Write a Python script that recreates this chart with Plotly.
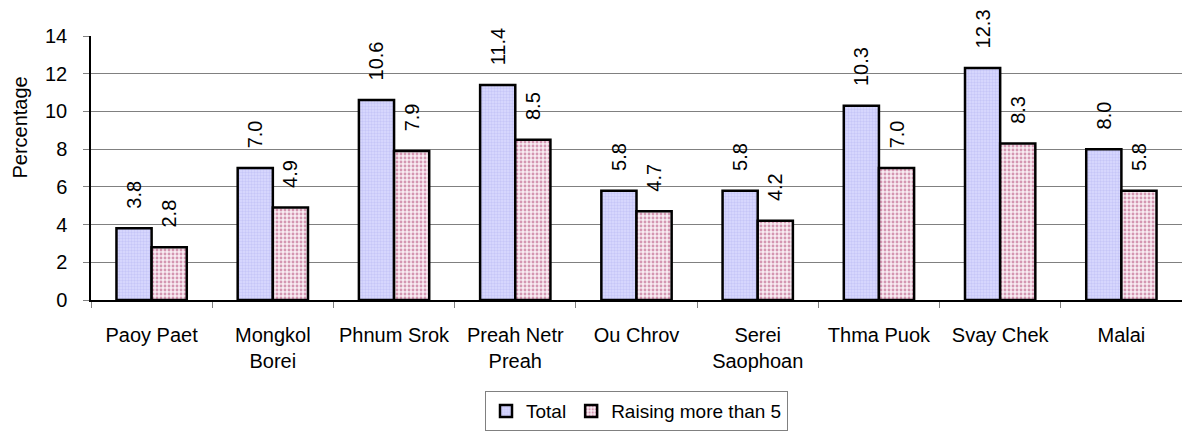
import plotly.graph_objects as go

categories = ["Paoy Paet", "Mongkol<br>Borei", "Phnum Srok", "Preah Netr<br>Preah", "Ou Chrov",
              "Serei<br>Saophoan", "Thma Puok", "Svay Chek", "Malai"]
total = [3.8, 7.0, 10.6, 11.4, 5.8, 5.8, 10.3, 12.3, 8.0]
raising = [2.8, 4.9, 7.9, 8.5, 4.7, 4.2, 7.0, 8.3, 5.8]
y_title = "Percentage"

FAM = "Liberation Sans, Arial"
font = dict(family=FAM, size=20, color="black")
pad = "\u00a0\u00a0\u00a0"

fig = go.Figure()
fig.add_trace(go.Bar(
    x=categories, y=total, name="Total",
    text=[pad + f"{v:.1f}" for v in total], textposition="outside", textangle=-90,
    textfont=font, cliponaxis=False, constraintext="none",
    marker=dict(color="#d4d4fc", line=dict(color="black", width=2.5),
                pattern=dict(shape=".", fgcolor="#b0b0f0", bgcolor="#dcdcff", size=3, solidity=0.5)),
))
fig.add_trace(go.Bar(
    x=categories, y=raising, name="Raising more than 5",
    text=[pad + f"{v:.1f}" for v in raising], textposition="outside", textangle=-90,
    textfont=font, cliponaxis=False, constraintext="none",
    marker=dict(color="#f4e0ea", line=dict(color="black", width=2.5),
                pattern=dict(shape=".", fgcolor="#b04070", bgcolor="#f8ecf2", size=4, solidity=0.4)),
))

fig.update_layout(
    width=1182, height=443,
    margin=dict(l=91, r=0, t=36, b=143, autoexpand=False),
    paper_bgcolor="white", plot_bgcolor="white",
    font=font,
    barmode="group", bargap=0.42, bargroupgap=0,
    showlegend=True,
    legend=dict(orientation="h", x=0.5, xanchor="center", y=-0.345, yanchor="top",
                bordercolor="#808080", borderwidth=1,
                font=dict(family=FAM, size=19, color="black"),
                itemwidth=30, tracegroupgap=0),
    annotations=[dict(text=y_title, xref="paper", yref="paper",
                      x=-0.0651, y=0.653, xanchor="center", yanchor="middle",
                      textangle=-90, showarrow=False, font=font)],
)
fig.update_xaxes(showline=True, linecolor="black", linewidth=1.5, automargin=False,
                 ticks="outside", tickson="boundaries", ticklen=6, tickcolor="#808080",
                 ticklabelstandoff=16,
                 tickfont=font, showgrid=False)
fig.update_yaxes(range=[0, 14], dtick=2, showline=True, linecolor="black", linewidth=1.5,
                 automargin=False,
                 ticks="outside", ticklen=6, tickcolor="#808080",
                 ticklabelstandoff=12,
                 showgrid=True, gridcolor="#808080", gridwidth=1,
                 tickfont=font, zeroline=False)

fig.write_html("out.html", config={"displayModeBar": False},
               post_script="document.body.style.margin='0';")
